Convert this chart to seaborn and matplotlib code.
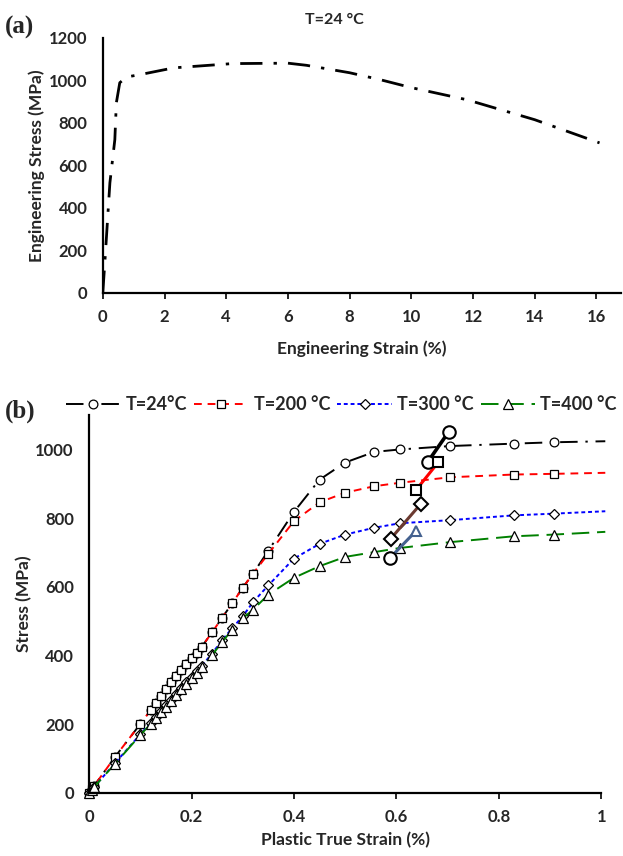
import numpy as np
import pandas as pd
import matplotlib
matplotlib.use("Agg")
import matplotlib.pyplot as plt
from matplotlib.lines import Line2D
import seaborn as sns

# ---- panel (a): engineering curve at 24 C
eng_strain = [0, 0.065, 0.23, 0.39, 0.44, 0.55, 0.77, 1.2, 2.3, 4.2, 6.0, 6.6, 8.0, 9.0, 10.0, 11.8, 14.0, 16.1]
eng_stress = [0, 140, 517, 720, 894, 988, 1015, 1026, 1058, 1078, 1080, 1070, 1035, 1002, 965, 908, 814, 705]

# ---- panel (b): plastic true strain curves
true_strain = [0, 0.005, 0.01, 0.05, 0.10, 0.12, 0.13, 0.14, 0.15, 0.16, 0.17, 0.18, 0.19, 0.20,
               0.21, 0.22, 0.24, 0.26, 0.28, 0.30, 0.32, 0.35, 0.40, 0.45, 0.50, 0.557, 0.607,
               0.705, 0.829, 0.907, 1.008]
stress_24 = [0, 10, 20, 103, 200, 240, 262, 283, 303, 322, 340, 358, 375, 392,
             408, 425, 467, 510, 553, 597, 638, 705, 818, 912, 962, 993, 1000,
             1010, 1017, 1021, 1024]
stress_200 = [0, 10, 20, 103, 200, 240, 262, 283, 303, 322, 340, 358, 375, 392,
              408, 425, 467, 510, 553, 597, 638, 696, 791, 846, 874, 893, 903,
              919, 927, 929, 932]
stress_300 = [0, 8, 17, 85, 170, 203, 220, 237, 254, 271, 288, 305, 322, 338,
              354, 370, 405, 445, 480, 514, 555, 604, 682, 725, 752, 772, 785,
              794, 808, 813, 820]
stress_400 = [0, 8, 17, 83, 168, 200, 217, 234, 251, 268, 285, 301, 317, 333,
              349, 366, 400, 440, 475, 508, 533, 577, 626, 660, 687, 701, 713,
              730, 747, 752, 760]

# short segments
seg_black = ([0.661, 0.702], [963, 1051])
seg_red = ([0.639, 0.682], [883, 963])
seg_brown = ([0.589, 0.648], [740, 842])
seg_slate = ([0.587, 0.638], [683, 762])

labels = ["T=24°C", "T=200 °C", "T=300 °C", "T=400 °C"]

sns.set_style("white")
plt.rcParams["font.family"] = ["Lato", "DejaVu Sans"]
plt.rcParams["font.weight"] = "bold"

fig = plt.figure(figsize=(6.23, 8.56), dpi=100)

# ------------------ (a)
ax1 = fig.add_axes([0.165, 0.658, 0.832, 0.298])
df_a = pd.DataFrame({"strain": eng_strain, "stress": eng_stress})
sns.lineplot(data=df_a, x="strain", y="stress", ax=ax1, color="black", lw=2,
             linestyle=(0, (8, 4, 1.2, 4)), sort=False, estimator=None)
ax1.set_xlim(0, 16.8)
ax1.set_ylim(0, 1200)
ax1.set_xticks(range(0, 17, 2))
ax1.set_yticks(range(0, 1201, 200))
ax1.set_xlabel("Engineering Strain (%)", fontsize=12.5, fontweight="bold", labelpad=11)
ax1.set_ylabel("Engineering Stress (MPa)", fontsize=12.5, fontweight="bold", labelpad=3)
ax1.text(0.446, 1.07, "T=24 °C", transform=ax1.transAxes, fontsize=11.5, fontweight="bold",
         ha="center", va="center")
fig.text(0.008, 0.968, "(a)", fontsize=18, fontweight="bold", family="Liberation Serif",
         va="center")

# ------------------ (b)
ax2 = fig.add_axes([0.143, 0.074, 0.822, 0.441])
series = [
    (stress_24, "black", (0, (9, 4, 1.2, 4)), "o"),
    (stress_200, "red", (0, (4, 3)), "s"),
    (stress_300, "blue", (0, (2, 1.5)), "D"),
    (stress_400, "green", (0, (9, 4)), "^"),
]
handles = []
for (vals, col, ls, mk), lab in zip(series, labels):
    df_b = pd.DataFrame({"strain": true_strain, "stress": vals})
    ms = {"o": 6.3, "s": 6.3, "D": 5, "^": 7.3}[mk]
    sns.lineplot(data=df_b, x="strain", y="stress", ax=ax2, color=col, lw=1.4,
                 linestyle=ls, marker=mk, markersize=ms, markerfacecolor="white",
                 markeredgecolor="black", markeredgewidth=0.9,
                 markevery=list(range(len(true_strain) - 1)),
                 sort=False, estimator=None, clip_on=False)
    handles.append(Line2D([], [], color=col, lw=1.4, linestyle=ls, marker=mk,
                          markersize=ms, markerfacecolor="white",
                          markeredgecolor="black", markeredgewidth=0.9))

seg_styles = [
    (seg_black, "black", ["o", "o"], 2.6),
    (seg_red, "red", ["s", "s"], 2.2),
    (seg_brown, "#6b3a30", ["D", "D"], 2.2),
    (seg_slate, "#44618f", ["o", "^"], 2.2),
]
for (xs, ys), col, mks, lw in seg_styles:
    ax2.plot(xs, ys, color=col, lw=lw, zorder=5)
    for xx, yy, mk in zip(xs, ys, mks):
        edge = col if (col == "#44618f" and mk == "^") else "black"
        ax2.plot([xx], [yy], marker=mk, markersize=9 if mk == "o" else 7,
                 markerfacecolor="white", markeredgecolor=edge,
                 markeredgewidth=1.5, zorder=6, linestyle="none")

ax2.set_xlim(0, 1)
ax2.set_ylim(0, 1100)
ax2.set_xticks([0, 0.2, 0.4, 0.6, 0.8, 1])
ax2.set_xticklabels(["0", "0.2", "0.4", "0.6", "0.8", "1"])
ax2.set_yticks(range(0, 1001, 200))
ax2.set_xlabel("Plastic True Strain (%)", fontsize=12.5, fontweight="bold", labelpad=5)
ax2.set_ylabel("Stress (MPa)", fontsize=12.5, fontweight="bold", labelpad=2)
fig.text(0.008, 0.52, "(b)", fontsize=18, fontweight="bold", family="Liberation Serif",
         va="center")

fig.legend(handles, labels, loc="center", bbox_to_anchor=(0.548, 0.527), ncol=4,
           frameon=False, handlelength=3.0, columnspacing=0.4,
           handletextpad=0.3, numpoints=1, prop={"weight": "bold", "size": 13})

for ax in (ax1, ax2):
    sns.despine(ax=ax)
    ax.spines["left"].set_linewidth(1.6)
    ax.spines["bottom"].set_linewidth(1.6)
    ax.spines["left"].set_color("black")
    ax.spines["bottom"].set_color("black")
    ax.tick_params(axis="x", which="major", direction="out", length=4, width=1.4,
                   bottom=True, labelsize=12, pad=8)
    ax.tick_params(axis="y", length=0, labelsize=12, pad=11)
    for t in ax.get_xticklabels() + ax.get_yticklabels():
        t.set_fontweight("bold")

fig.savefig("out.png", dpi=100)
